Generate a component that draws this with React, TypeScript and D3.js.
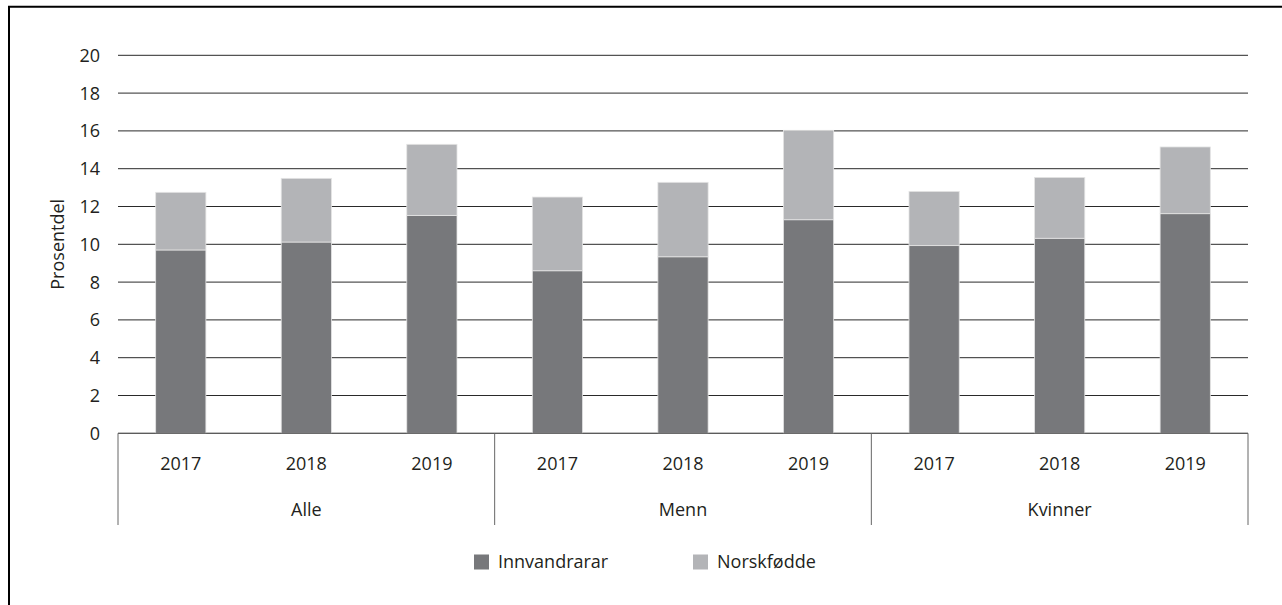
import React from "react";
import * as d3 from "d3";

const groups = ["Alle", "Menn", "Kvinner"];
const years = ["2017", "2018", "2019"];
const seriesNames = ["Innvandrarar", "Norskfødde"];
// Innvandrarar per group, per year
const innvandrarar = [
  [9.7, 10.12, 11.53],
  [8.6, 9.34, 11.3],
  [9.93, 10.32, 11.62],
];
// Norskfødde per group, per year
const norskfodde = [
  [3.05, 3.37, 3.76],
  [3.9, 3.94, 4.73],
  [2.87, 3.22, 3.53],
];
const yTicks = [0, 2, 4, 6, 8, 10, 12, 14, 16, 18, 20];
const yLabel = "Prosentdel";

const W = 1282;
const H = 605;
const colors = ["#77787b", "#b3b4b7"];
const textColor = "#231f20";
const font = "'Open Sans', sans-serif";

export default function App() {
  const left = 118;
  const right = 1248;
  const top = 55.3;
  const bottom = 433.3;
  const y = d3.scaleLinear().domain([0, 20]).range([bottom, top]);
  const xg = d3.scaleBand().domain(groups).range([left, right]).padding(0);
  const xi = d3
    .scaleBand()
    .domain(years)
    .range([0, xg.bandwidth()])
    .paddingInner(0.6)
    .paddingOuter(0.3);

  const stackData = groups.map((g, gi) =>
    years.map((yr, yi) => ({
      g,
      yr,
      v: [innvandrarar[gi][yi], norskfodde[gi][yi]],
    }))
  );

  return (
    <svg
      width={W}
      height={H}
      style={{ position: "absolute", left: 0, top: 0, background: "#fff" }}
      fontFamily={font}
    >
      <rect x={0} y={0} width={W} height={H} fill="#fff" />
      <path d={`M9,${H} L9,6.75 L${W},6.75`} fill="none" stroke="#000" strokeWidth={2} />

      {/* gridlines */}
      {yTicks.map((t) => (
        <line
          key={t}
          x1={left}
          x2={right}
          y1={y(t)}
          y2={y(t)}
          stroke={t === 0 ? "#555" : "#2a2a2a"}
          strokeWidth={1}
        />
      ))}
      {/* y tick labels */}
      {yTicks.map((t) => (
        <text
          key={"l" + t}
          x={100}
          y={y(t)}
          dy="0.36em"
          textAnchor="end"
          fontSize={18}
          fill={textColor}
        >
          {t}
        </text>
      ))}
      <text
        transform={`translate(${64},${(top + bottom) / 2}) rotate(-90)`}
        textAnchor="middle"
        fontSize={18}
        fill={textColor}
      >
        {yLabel}
      </text>

      {/* bars */}
      {stackData.map((row) =>
        row.map((d) => {
          const x0 = (xg(d.g) as number) + (xi(d.yr) as number);
          let acc = 0;
          return d.v.map((val, si) => {
            const y0 = acc;
            acc += val;
            return (
              <rect
                key={d.g + d.yr + si}
                x={x0}
                width={xi.bandwidth()}
                y={y(acc)}
                height={y(y0) - y(acc)}
                fill={colors[si]}
                stroke="#e4e4e4"
                strokeWidth={0.8}
              />
            );
          });
        })
      )}

      {/* x axis */}
      <line x1={left} x2={right} y1={bottom} y2={bottom} stroke="#555" strokeWidth={1} />
      {[...groups.map((g) => xg(g) as number), right].map((xv, i) => (
        <line key={"s" + i} x1={xv} x2={xv} y1={bottom} y2={525} stroke="#666" strokeWidth={1} />
      ))}
      {groups.map((g) =>
        years.map((yr) => (
          <text
            key={g + yr + "t"}
            x={(xg(g) as number) + (xi(yr) as number) + xi.bandwidth() / 2}
            y={464}
            dy="0.36em"
            textAnchor="middle"
            fontSize={18}
            fill={textColor}
          >
            {yr}
          </text>
        ))
      )}
      {groups.map((g) => (
        <text
          key={g + "g"}
          x={(xg(g) as number) + xg.bandwidth() / 2}
          y={510}
          dy="0.36em"
          textAnchor="middle"
          fontSize={18}
          fill={textColor}
        >
          {g}
        </text>
      ))}

      {/* legend */}
      {seriesNames.map((s, i) => {
        const lx = [474, 693][i];
        return (
          <g key={s}>
            <rect x={lx} y={554.5} width={15} height={15} fill={colors[i]} />
            <text x={lx + 24} y={562} dy="0.36em" fontSize={18} fill={textColor}>
              {s}
            </text>
          </g>
        );
      })}
    </svg>
  );
}
